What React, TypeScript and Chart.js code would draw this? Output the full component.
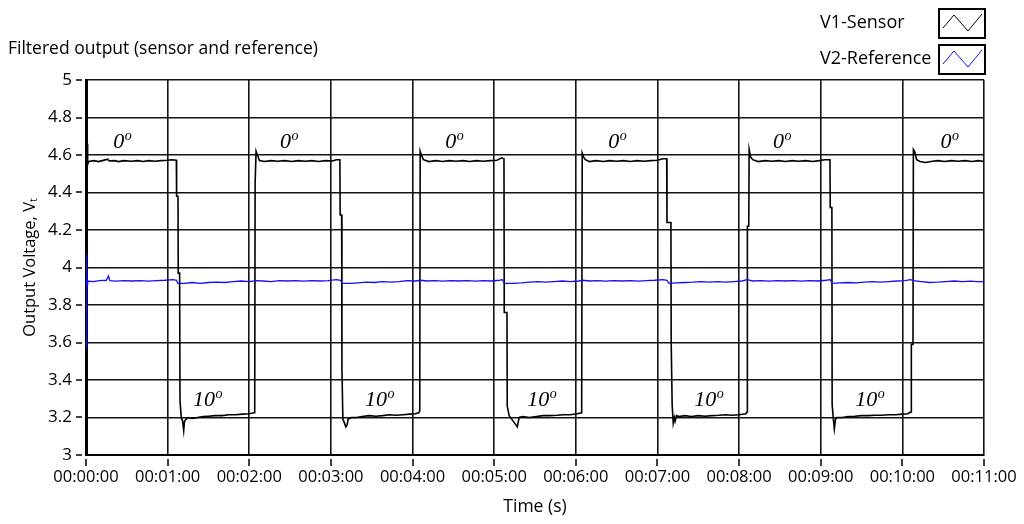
import React, { useEffect, useRef } from "react";
import { Chart, registerables } from "chart.js";

Chart.register(...registerables);

const chartTitle = "Filtered output (sensor and reference)";
const xAxisTitle = "Time (s)";
const yAxisTitle = "Output Voltage, Vₜ";
const legendLabels = ["V1-Sensor", "V2-Reference"];
const seriesColors = ["#000000", "#1010f0"];

const xTickSeconds = [0, 60, 120, 180, 240, 300, 360, 420, 480, 540, 600, 660];
const xTickLabels = [
  "00:00:00", "00:01:00", "00:02:00", "00:03:00", "00:04:00", "00:05:00",
  "00:06:00", "00:07:00", "00:08:00", "00:09:00", "00:10:00", "00:11:00",
];
const yTickValues = [3, 3.2, 3.4, 3.6, 3.8, 4, 4.2, 4.4, 4.6, 4.8, 5];
const yTickLabels = ["3", "3.2", "3.4", "3.6", "3.8", "4", "4.2", "4.4", "4.6", "4.8", "5"];

// annotation labels: [time (s), voltage]
const highLabels: [number, number][] = [[20, 4.67], [142.6, 4.67], [264, 4.67], [383.8, 4.67], [505, 4.67], [628, 4.67]];
const lowLabels: [number, number][] = [[78.7, 3.29], [205.1, 3.29], [324.3, 3.29], [447, 3.29], [565.4, 3.29]];
const highText = "0";
const lowText = "10";
const degreeText = "o";

// V1-Sensor: [time (s), volts]
const sensorSeries: [number, number][] = [
  [0, 3.0], [0.2, 4.74], [0.5, 4.2], [0.8, 4.66], [1.2, 4.55], [2, 4.565], [6, 4.57], [9, 4.565], [12, 4.57],
  [16, 4.578], [17, 4.568], [21, 4.57], [24, 4.565], [28, 4.57], [33, 4.567], [38, 4.57], [42, 4.565], [46, 4.57],
  [51, 4.567], [55, 4.57], [60, 4.572], [63, 4.575], [66.4, 4.572],
  [66.6, 4.38], [67.6, 4.38], [67.8, 3.97], [68.8, 3.97], [69.1, 3.29], [70, 3.2], [71, 3.18], [71.8, 3.13],
  [72.4, 3.18], [73.5, 3.19], [75, 3.2], [78, 3.195], [82, 3.2], [86, 3.205], [90, 3.207], [95, 3.21], [100, 3.21],
  [105, 3.215], [110, 3.215], [115, 3.218], [120, 3.22], [123.5, 3.225],
  [124.0, 3.23], [124.3, 4.45], [125, 4.62], [126, 4.6], [127.5, 4.57], [131, 4.565], [136, 4.57], [141, 4.567],
  [146, 4.57], [151, 4.565], [156, 4.57], [161, 4.567], [166, 4.57], [171, 4.565], [176, 4.57], [181, 4.568],
  [184, 4.575], [186.6, 4.575],
  [186.8, 4.28], [187.9, 4.28], [188.1, 3.46], [188.8, 3.19], [190, 3.17], [191, 3.15], [191.9, 3.16], [192.6, 3.19],
  [195, 3.2], [199, 3.2], [203, 3.205], [208, 3.21], [213, 3.207], [218, 3.21], [223, 3.215], [228, 3.212],
  [233, 3.215], [238, 3.218], [242, 3.22], [244.5, 3.225], [245.3, 3.235],
  [245.6, 4.62], [246.5, 4.6], [248, 4.575], [252, 4.565], [257, 4.57], [262, 4.565], [267, 4.57], [272, 4.567],
  [277, 4.57], [282, 4.565], [287, 4.57], [292, 4.567], [297, 4.57], [302, 4.572], [305.5, 4.585], [307.2, 4.58],
  [307.4, 3.76], [309.4, 3.76], [309.6, 3.26], [311, 3.21], [313, 3.19], [315, 3.17], [317, 3.15], [318.3, 3.2],
  [321, 3.205], [326, 3.2], [331, 3.205], [336, 3.21], [341, 3.21], [346, 3.212], [351, 3.215], [356, 3.215],
  [361, 3.22], [364.3, 3.225],
  [364.7, 4.61], [365.6, 4.59], [367, 4.575], [370, 4.565], [375, 4.57], [380, 4.565], [385, 4.57], [390, 4.567],
  [395, 4.57], [400, 4.565], [405, 4.57], [410, 4.567], [415, 4.57], [420, 4.572], [424, 4.58], [426.8, 4.58],
  [427.0, 4.24], [429.9, 4.24], [430.1, 3.6], [430.8, 3.27], [431.6, 3.17], [432.4, 3.2], [433, 3.18], [434, 3.21],
  [436, 3.205], [440, 3.21], [445, 3.205], [450, 3.21], [455, 3.207], [460, 3.21], [465, 3.212], [470, 3.215],
  [475, 3.212], [480, 3.215], [485, 3.22],
  [485.9, 3.23], [486.1, 4.22], [487.1, 4.22], [487.4, 4.63], [488.5, 4.59], [490, 4.575], [494, 4.565], [499, 4.57],
  [504, 4.567], [509, 4.57], [514, 4.565], [519, 4.57], [524, 4.567], [529, 4.57], [534, 4.565], [539, 4.57],
  [543, 4.575], [546.8, 4.575],
  [547, 4.32], [548.2, 4.32], [548.4, 3.27], [549.3, 3.19], [550, 3.14], [550.8, 3.19], [552, 3.2], [556, 3.2],
  [560, 3.205], [565, 3.207], [570, 3.21], [575, 3.21], [580, 3.212], [585, 3.212], [590, 3.215], [595, 3.215],
  [600, 3.218], [604, 3.22], [606.4, 3.23],
  [606.6, 3.59], [607.8, 3.59], [608.1, 4.63], [609, 4.62], [610.5, 4.575], [613, 4.565], [617, 4.56], [621, 4.565],
  [626, 4.57], [631, 4.565], [636, 4.57], [641, 4.567], [646, 4.57], [651, 4.565], [656, 4.57], [660, 4.565],
];

// V2-Reference: [time (s), volts]
const referenceSeries: [number, number][] = [
  [0, 3.92], [0.15, 4.07], [0.4, 3.57], [0.7, 3.99], [1.0, 3.9], [1.5, 3.928], [5, 3.925], [10, 3.93], [15, 3.932],
  [16.5, 3.955], [17.5, 3.93], [22, 3.927], [28, 3.93], [34, 3.928], [40, 3.93], [46, 3.927], [52, 3.93], [58, 3.932],
  [64, 3.935], [66.5, 3.932], [67.5, 3.915], [72, 3.915], [78, 3.92], [84, 3.915], [90, 3.92], [96, 3.922],
  [102, 3.92], [108, 3.925], [114, 3.928], [120, 3.925], [125, 3.93], [130, 3.928], [136, 3.925], [142, 3.93],
  [148, 3.928], [154, 3.93], [160, 3.927], [166, 3.93], [172, 3.928], [178, 3.93], [184, 3.935], [187, 3.932],
  [188.5, 3.915], [195, 3.915], [200, 3.918], [206, 3.922], [212, 3.92], [218, 3.925], [224, 3.922], [230, 3.925],
  [236, 3.93], [242, 3.928], [246, 3.932], [250, 3.928], [256, 3.93], [262, 3.927], [268, 3.93], [274, 3.928],
  [280, 3.93], [286, 3.927], [292, 3.93], [298, 3.928], [304, 3.932], [306, 3.935], [307.5, 3.915], [314, 3.915],
  [320, 3.918], [326, 3.922], [332, 3.925], [338, 3.922], [344, 3.925], [350, 3.928], [356, 3.925], [362, 3.928],
  [365, 3.932], [370, 3.928], [376, 3.93], [382, 3.927], [388, 3.93], [394, 3.928], [400, 3.93], [406, 3.927],
  [412, 3.93], [418, 3.932], [424, 3.935], [427, 3.932], [428.5, 3.915], [434, 3.918], [440, 3.92], [446, 3.922],
  [452, 3.925], [458, 3.922], [464, 3.925], [470, 3.922], [476, 3.925], [482, 3.928], [486, 3.935], [490, 3.928],
  [496, 3.93], [502, 3.927], [508, 3.93], [514, 3.928], [520, 3.93], [526, 3.927], [532, 3.93], [538, 3.928],
  [544, 3.932], [547, 3.935], [548.5, 3.915], [554, 3.918], [560, 3.92], [566, 3.918], [572, 3.922], [578, 3.925],
  [584, 3.922], [590, 3.925], [596, 3.928], [602, 3.93], [606, 3.935], [608, 3.93], [614, 3.925], [620, 3.92],
  [626, 3.922], [632, 3.925], [638, 3.928], [644, 3.925], [650, 3.927], [655, 3.925], [660, 3.925],
];

const UI_FONT = '"Open Sans", "Noto Sans", sans-serif';
const SERIF_FONT = '"Liberation Serif", "DejaVu Serif", serif';

const decorPlugin = {
  id: "decor",
  afterDatasetsDraw(chart: any) {
    const { ctx, chartArea, scales } = chart;
    const xs = scales.x;
    const ys = scales.y;
    ctx.save();
    // outside tick marks
    ctx.strokeStyle = "#000";
    ctx.lineWidth = 1.5;
    xTickSeconds.forEach((s) => {
      const px = Math.round(xs.getPixelForValue(s));
      ctx.beginPath();
      ctx.moveTo(px, chartArea.bottom + 4);
      ctx.lineTo(px, chartArea.bottom + 11);
      ctx.stroke();
    });
    yTickValues.forEach((v) => {
      const py = Math.round(ys.getPixelForValue(v));
      ctx.beginPath();
      ctx.moveTo(chartArea.left - 10, py);
      ctx.lineTo(chartArea.left - 4, py);
      ctx.stroke();
    });

    // annotations
    ctx.fillStyle = "#000";
    ctx.textBaseline = "middle";
    ctx.textAlign = "left";
    const drawDeg = (pt: [number, number], main: string) => {
      const px = xs.getPixelForValue(pt[0]);
      const py = ys.getPixelForValue(pt[1]);
      ctx.font = `italic 22px ${SERIF_FONT}`;
      ctx.fillText(main, px, py);
      const w = ctx.measureText(main).width;
      ctx.font = `italic 14px ${SERIF_FONT}`;
      ctx.fillText(degreeText, px + w + 0.5, py - 6);
    };
    highLabels.forEach((p) => drawDeg(p, highText));
    lowLabels.forEach((p) => drawDeg(p, lowText));

    // chart title
    ctx.font = `17.5px ${UI_FONT}`;
    ctx.fillStyle = "#000";
    ctx.fillText(chartTitle, 8, 49);

    // legend
    const boxes = [
      { tx: 820, ty: 23, bx: 939, by: 9, bw: 46, bh: 29 },
      { tx: 820, ty: 59, bx: 939, by: 45, bw: 46, bh: 29 },
    ];
    legendLabels.forEach((label, i) => {
      const b = boxes[i];
      ctx.font = `18px ${UI_FONT}`;
      ctx.fillStyle = "#000";
      ctx.textAlign = "left";
      ctx.fillText(label, b.tx, b.ty);
      ctx.strokeStyle = "#000";
      ctx.lineWidth = 2;
      ctx.strokeRect(b.bx, b.by, b.bw, b.bh);
      ctx.strokeStyle = seriesColors[i];
      ctx.lineWidth = 1;
      ctx.beginPath();
      ctx.moveTo(b.bx + 4, b.by + b.bh - 10);
      ctx.lineTo(b.bx + 15, b.by + 6);
      ctx.lineTo(b.bx + 29, b.by + b.bh - 7);
      ctx.lineTo(b.bx + 43, b.by + 5);
      ctx.stroke();
    });
    ctx.restore();
  },
};

export default function App() {
  const canvasRef = useRef<HTMLCanvasElement | null>(null);

  useEffect(() => {
    if (!canvasRef.current) return;
    const toPoints = (arr: [number, number][]) => arr.map(([x, y]) => ({ x, y }));
    const chart = new Chart(canvasRef.current, {
      type: "line",
      data: {
        datasets: [
          {
            label: legendLabels[1],
            data: toPoints(referenceSeries),
            borderColor: seriesColors[1],
            borderWidth: 1.3,
            pointRadius: 0,
            tension: 0,
          },
          {
            label: legendLabels[0],
            data: toPoints(sensorSeries),
            borderColor: seriesColors[0],
            borderWidth: 1.6,
            pointRadius: 0,
            tension: 0,
          },
        ],
      },
      options: {
        animation: false,
        responsive: false,
        devicePixelRatio: 1,
        layout: { padding: { top: 80, right: 40, left: 0, bottom: 0 } },
        plugins: {
          legend: { display: false },
          title: { display: false },
          tooltip: { enabled: false },
        },
        scales: {
          x: {
            type: "linear",
            min: 0,
            max: 660,
            afterFit: (s: any) => {
              s.height = 69;
              s.paddingRight = 0;
              s.paddingLeft = 0;
            },
            afterBuildTicks: (s: any) => {
              s.ticks = xTickSeconds.map((v) => ({ value: v }));
            },
            ticks: {
              autoSkip: false,
              maxRotation: 0,
              padding: 12,
              color: "#000",
              font: { family: UI_FONT, size: 16.5 },
              callback: (v: any) => xTickLabels[xTickSeconds.indexOf(Number(v))] ?? "",
            },
            grid: { color: "#141414", lineWidth: 1.6, drawTicks: false },
            border: { display: true, color: "#000", width: 2 },
            title: {
              display: true,
              text: xAxisTitle,
              color: "#000",
              font: { family: UI_FONT, size: 17.5 },
              padding: { top: 0, bottom: 6 },
            },
          },
          y: {
            type: "linear",
            min: 3,
            max: 5,
            afterFit: (s: any) => {
              s.width = 86;
            },
            afterBuildTicks: (s: any) => {
              s.ticks = yTickValues.map((v) => ({ value: v }));
            },
            ticks: {
              autoSkip: false,
              padding: 14,
              color: "#000",
              font: { family: UI_FONT, size: 17 },
              callback: (v: any) => {
                const idx = yTickValues.findIndex((t) => Math.abs(t - Number(v)) < 1e-6);
                return idx >= 0 ? yTickLabels[idx] : "";
              },
            },
            grid: { color: "#141414", lineWidth: 1.6, drawTicks: false },
            border: { display: true, color: "#000", width: 3 },
            title: {
              display: true,
              text: yAxisTitle,
              color: "#000",
              font: { family: UI_FONT, size: 16.5 },
              padding: { top: 20, bottom: 0 },
            },
          },
        },
      },
      plugins: [decorPlugin],
    });
    return () => chart.destroy();
  }, []);

  return (
    <div style={{ position: "fixed", left: 0, top: 0, width: 1024, height: 524, background: "#fff" }}>
      <canvas ref={canvasRef} width={1024} height={524} />
    </div>
  );
}
